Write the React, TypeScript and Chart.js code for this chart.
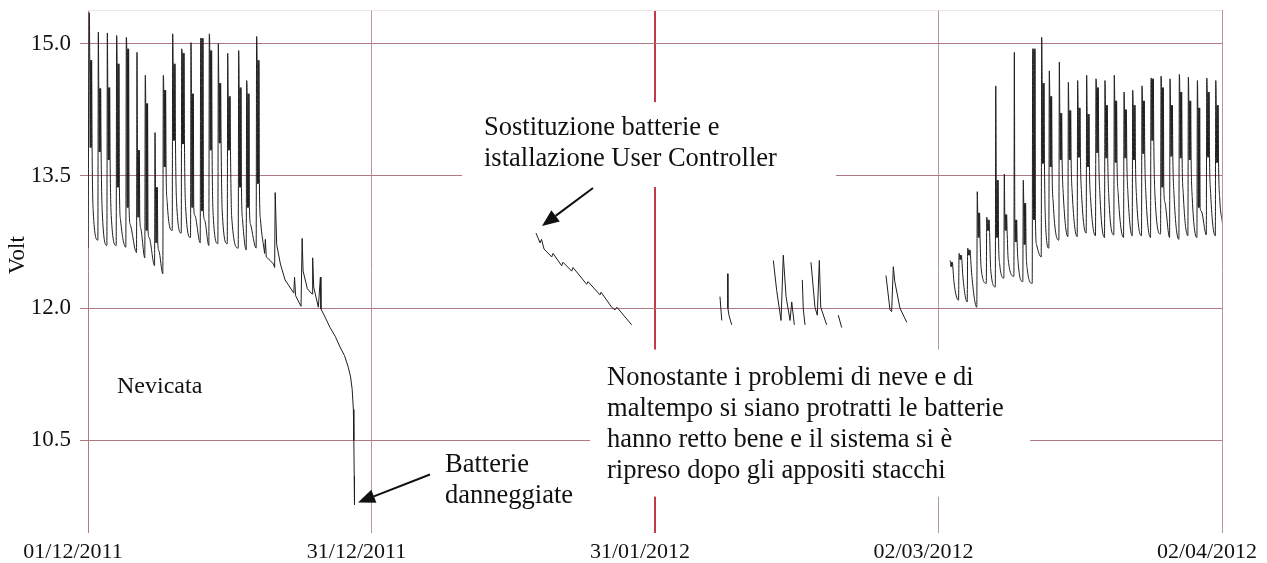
import React, { useEffect, useRef } from 'react';
import { Chart, registerables } from 'chart.js';

Chart.register(...registerables);

// ---- axis data ----
const xTickDays = [0, 30.5, 61, 91.5, 122];
const xTickLabels = ['01/12/2011', '31/12/2011', '31/01/2012', '02/03/2012', '02/04/2012'];
const xGridColors = ['#b07880', '#b49a9e', '#c23a48', '#b09a9c', '#b8969a'];
const xGridWidths = [1, 1, 2, 1, 1];
const yTickValues = [10.5, 12.0, 13.5, 15.0];

// ---- December: daily charge spikes ----
const decDays = [0.14, 1.11, 2.08, 3.08, 4.12, 5.27, 6.16, 7.21, 8.1, 9.11, 10.08, 11.08, 12.12, 13.05, 14.02, 15.03, 16.21, 17.07, 18.14];
const decLow = [12.68, 12.77, 12.71, 12.71, 12.69, 12.63, 12.57, 12.48, 12.39, 12.88, 12.85, 12.8, 12.74, 12.71, 12.73, 12.73, 12.68, 12.66, 12.68];
const decPeak = [15.35, 15.13, 15.12, 15.09, 15.07, 14.9, 14.64, 13.99, 14.64, 15.11, 14.94, 15.01, 15.06, 15.11, 15.0, 14.89, 14.92, 14.58, 15.08];
const decBandHi = [14.81, 14.49, 14.5, 14.77, 14.94, 13.79, 14.32, 13.37, 14.47, 14.77, 14.89, 14.43, 15.06, 14.92, 14.55, 14.4, 14.5, 14.43, 14.81];
const decBandLo = [13.82, 13.77, 13.68, 13.37, 13.14, 13.03, 12.88, 12.74, 13.6, 13.9, 13.86, 13.14, 13.1, 13.79, 13.87, 13.79, 13.37, 13.14, 13.41];
const decDrop = [13.1, 13.1, 13.05, 13.0, 12.95, 12.9, 12.8, 12.65, 13.2, 13.2, 13.15, 13.05, 13.0, 13.05, 13.1, 13.05, 13.0, 12.95, 13.0];

// ---- end of December: decline and failure ----
const tailDays = [19.0, 19.08, 19.18, 19.6, 19.95, 20.08, 20.14, 20.3, 20.7, 21.2, 22.14, 22.22, 22.34, 22.92, 23.04, 23.14, 23.6, 24.1, 24.17, 24.28, 24.78, 25.0, 25.06, 25.5, 26.04, 26.6, 27.11, 27.6, 28.0, 28.25, 28.42, 28.55, 28.6, 28.64, 28.67];
const tailVolts = [12.62, 12.78, 12.58, 12.54, 12.5, 12.46, 13.31, 12.72, 12.5, 12.32, 12.17, 12.35, 12.14, 12.02, 12.79, 12.42, 12.22, 12.16, 12.57, 12.24, 12.01, 12.35, 11.99, 11.9, 11.78, 11.68, 11.56, 11.46, 11.33, 11.22, 11.08, 10.85, 10.5, 10.1, 9.77];

// ---- January: after battery replacement ----
const janDays = [48.2, 48.63, 48.79, 49.06, 49.89, 50.03, 50.96, 51.1, 52.04, 52.18, 53.65, 53.8, 55.08, 55.2, 56.34, 56.7, 56.9, 58.49];
const janVolts = [12.85, 12.74, 12.78, 12.67, 12.58, 12.62, 12.48, 12.52, 12.42, 12.46, 12.27, 12.3, 12.15, 12.18, 12.01, 11.98, 12.01, 11.81];

// ---- February: fragments (null = no data) ----
const febDays = [67.99, 68.18, 68.19, 68.82, 68.84, 68.96, 69.25, 69.26, 73.73, 74.09, 74.56, 74.8, 75.1, 75.53, 75.71, 75.99, 76.0, 76.85, 76.95, 77.14, 77.15, 77.78, 78.21, 78.46, 78.68, 78.83, 79.47, 79.48, 80.72, 81.08, 81.09, 85.85, 86.28, 86.46, 86.64, 86.8, 87.35, 88.08];
const febVolts = [12.13, 11.86, null, 12.39, 12.0, 11.92, 11.81, null, 12.54, 12.2, 11.86, 12.6, 12.13, 11.86, 12.07, 11.81, null, 12.32, 11.99, 11.81, null, 12.52, 12.01, 11.92, 12.54, 12.01, 11.81, null, 11.92, 11.78, null, 12.37, 11.98, 11.96, 12.47, 12.3, 12.0, 11.84];

// ---- March: daily charge spikes ----
const marDays = [92.74, 93.71, 94.64, 95.67, 96.69, 97.66, 98.58, 99.66, 100.62, 101.63, 102.6, 103.42, 104.5, 105.47, 106.47, 107.44, 108.44, 109.41, 110.41, 111.46, 112.39, 113.39, 114.36, 115.44, 116.41, 117.41, 118.38, 119.35, 120.36, 121.33];
const marLow = [null, 12.09, 12.07, 12.01, 12.28, 12.24, 12.34, 12.36, 12.3, 12.28, 12.58, 12.68, 12.77, 12.81, 12.81, 12.85, 12.82, 12.8, 12.83, 12.8, 12.82, 12.82, 12.8, 12.84, 12.8, 12.78, 12.82, 12.8, 12.83, 12.82];
const marPeak = [12.54, 12.62, 12.68, 13.32, 13.03, 14.52, 13.52, 14.9, 13.45, 14.94, 15.07, 14.69, 14.79, 14.56, 14.58, 14.64, 14.6, 14.58, 14.64, 14.45, 14.47, 14.52, 14.61, 14.63, 14.6, 14.65, 14.62, 14.58, 14.61, 14.58];
const marBandHi = [12.52, 12.6, 12.66, 13.08, 13.0, 13.45, 13.06, 13.0, 13.19, 14.94, 14.55, 14.4, 14.21, 14.24, 14.27, 14.2, 14.5, 14.3, 14.35, 14.25, 14.3, 14.35, 14.6, 14.5, 14.3, 14.45, 14.35, 14.27, 14.45, 14.3];
const marBandLo = [12.47, 12.55, 12.6, 12.8, 12.88, 12.8, 12.88, 12.75, 12.72, 13.0, 13.64, 13.6, 13.68, 13.68, 13.71, 13.6, 13.76, 13.7, 13.65, 13.7, 13.68, 13.75, 13.9, 13.37, 13.72, 13.7, 13.68, 13.14, 13.71, 13.65];
const marDrop = [12.3, 12.35, 12.4, 12.45, 12.45, 12.5, 12.55, 12.5, 12.45, 12.72, 12.95, 13.2, 13.3, 13.3, 13.3, 13.25, 13.3, 13.25, 13.3, 13.3, 13.25, 13.3, 13.3, 13.2, 13.3, 13.3, 13.25, 13.1, 13.3, 13.25];
const marEndDays = [122.05];
const marEndVolts = [12.96];

// ---- annotations (anchored in data units) ----
const FONT = "'Liberation Serif', 'Times New Roman', Times, serif";
const notes = [
  { day: 3.12, volt: 11.04, size: 24, lines: ['Nevicata'] },
  { day: 42.6, volt: 13.962, size: 26.5, lines: ['Sostituzione batterie e', 'istallazione User Controller'] },
  { day: 55.84, volt: 11.132, size: 26.5, lines: ['Nonostante i problemi di neve e di', 'maltempo si siano protratti le batterie', 'hanno retto bene e il sistema si è', 'ripreso dopo gli appositi stacchi'] },
  { day: 38.41, volt: 10.147, size: 26.5, lines: ['Batterie', 'danneggiate'] },
];
const whiteBoxes = [
  { d0: 40.24, d1: 80.47, v0: 14.335, v1: 13.373 },
  { d0: 54.01, d1: 101.35, v0: 11.53, v1: 9.863 },
];
const arrows = [
  { fromDay: 54.33, fromVolt: 13.362, toDay: 48.84, toVolt: 12.93 },
  { fromDay: 36.79, fromVolt: 10.113, toDay: 29.05, toVolt: 9.796 },
];

type P = { x: number; y: number | null };

function spikeSection(days: number[], low: (number | null)[], peak: number[], hi: number[], lo: number[], drop: number[]): P[] {
  const pts: P[] = [];
  days.forEach((d, i) => {
    if (low[i] !== null) pts.push({ x: d - 0.05, y: low[i] });
    pts.push({ x: d, y: peak[i] });
    pts.push({ x: d + 0.05, y: hi[i] });
    pts.push({ x: d + 0.1, y: lo[i] });
    pts.push({ x: d + 0.15, y: hi[i] });
    pts.push({ x: d + 0.2, y: lo[i] });
    pts.push({ x: d + 0.25, y: hi[i] });
    pts.push({ x: d + 0.3, y: lo[i] });
    pts.push({ x: d + 0.42, y: drop[i] });
  });
  return pts;
}

function listSection(days: number[], volts: (number | null)[]): P[] {
  return days.map((d, i) => ({ x: d, y: volts[i] }));
}

const gap = (x: number): P => ({ x, y: null });

function buildSpikeData(): P[] {
  return [
    { x: 0, y: decLow[0] },
    ...spikeSection(decDays, decLow.map((v, i) => (i === 0 ? null : v)), decPeak, decBandHi, decBandLo, decDrop),
    { x: tailDays[0], y: tailVolts[0] },
    gap(60),
    ...spikeSection(marDays, marLow, marPeak, marBandHi, marBandLo, marDrop),
    ...listSection(marEndDays, marEndVolts),
  ];
}

function buildLowData(): P[] {
  return [
    ...listSection(tailDays, tailVolts),
    gap(38),
    ...listSection(janDays, janVolts),
    gap(63),
    ...listSection(febDays, febVolts),
  ];
}

const annotationPlugin = {
  id: 'notes',
  beforeDatasetsDraw(chart: any) {
    const { ctx, chartArea, scales } = chart;
    const xs = scales.x;
    const ys = scales.y;
    ctx.save();
    ctx.strokeStyle = '#ece4e4';
    ctx.lineWidth = 1;
    ctx.beginPath();
    ctx.moveTo(chartArea.left, chartArea.top + 0.5);
    ctx.lineTo(chartArea.right, chartArea.top + 0.5);
    ctx.stroke();
    ctx.fillStyle = '#ffffff';
    whiteBoxes.forEach((b) => {
      const x0 = xs.getPixelForValue(b.d0);
      const x1 = xs.getPixelForValue(b.d1);
      const y0 = ys.getPixelForValue(b.v0);
      const y1 = ys.getPixelForValue(b.v1);
      ctx.fillRect(x0, y0, x1 - x0, y1 - y0);
    });
    ctx.restore();
  },
  afterDraw(chart: any) {
    const { ctx, scales } = chart;
    const xs = scales.x;
    const ys = scales.y;
    ctx.save();
    ctx.fillStyle = '#111';
    ctx.textAlign = 'left';
    ctx.textBaseline = 'alphabetic';
    notes.forEach((n) => {
      ctx.font = `${n.size}px ${FONT}`;
      const x = xs.getPixelForValue(n.day);
      const y = ys.getPixelForValue(n.volt);
      const lh = n.size * 1.18;
      n.lines.forEach((t, i) => ctx.fillText(t, x, y + i * lh));
    });
    ctx.font = `23px ${FONT}`;
    ctx.textAlign = 'center';
    ctx.textBaseline = 'middle';
    ctx.translate(18, ys.getPixelForValue(12.6));
    ctx.rotate(-Math.PI / 2);
    ctx.fillText('Volt', 0, 0);
    ctx.restore();

    ctx.save();
    ctx.strokeStyle = '#111';
    ctx.fillStyle = '#111';
    ctx.lineWidth = 2;
    arrows.forEach((a) => {
      const x0 = xs.getPixelForValue(a.fromDay);
      const y0 = ys.getPixelForValue(a.fromVolt);
      const x1 = xs.getPixelForValue(a.toDay);
      const y1 = ys.getPixelForValue(a.toVolt);
      const ang = Math.atan2(y1 - y0, x1 - x0);
      const headLen = 17;
      const headW = 7;
      const bx = x1 - headLen * Math.cos(ang);
      const by = y1 - headLen * Math.sin(ang);
      ctx.beginPath();
      ctx.moveTo(x0, y0);
      ctx.lineTo(bx, by);
      ctx.stroke();
      ctx.beginPath();
      ctx.moveTo(x1, y1);
      ctx.lineTo(bx + headW * Math.sin(ang), by - headW * Math.cos(ang));
      ctx.lineTo(bx - headW * Math.sin(ang), by + headW * Math.cos(ang));
      ctx.closePath();
      ctx.fill();
    });
    ctx.restore();
  },
};

export default function App() {
  const canvasRef = useRef<HTMLCanvasElement | null>(null);

  useEffect(() => {
    if (!canvasRef.current) return;
    const chart = new Chart(canvasRef.current, {
      type: 'line',
      data: {
        datasets: [
          {
            data: buildSpikeData() as any,
            borderColor: '#1e1e1e',
            borderWidth: 1,
            pointRadius: 0,
            cubicInterpolationMode: 'monotone',
            fill: false,
            spanGaps: false,
          },
          {
            data: buildLowData() as any,
            borderColor: '#1e1e1e',
            borderWidth: 1,
            pointRadius: 0,
            tension: 0,
            fill: false,
            spanGaps: false,
          },
        ],
      },
      options: {
        animation: false,
        responsive: true,
        maintainAspectRatio: false,
        layout: { padding: { top: 10, right: 45, left: 0, bottom: 0 } },
        plugins: { legend: { display: false }, tooltip: { enabled: false } },
        scales: {
          x: {
            type: 'linear',
            min: 0,
            max: 122,
            afterBuildTicks: (axis: any) => {
              axis.ticks = xTickDays.map((v) => ({ value: v }));
            },
            afterFit: (axis: any) => {
              axis.height = 30;
              axis.paddingLeft = 0;
              axis.paddingRight = 0;
              axis.paddingTop = 0;
              axis.paddingBottom = 0;
            },
            ticks: {
              autoSkip: false,
              maxRotation: 0,
              padding: 6,
              labelOffset: -15,
              color: '#111',
              font: { family: FONT, size: 22 },
              callback: (_v: any, i: number) => xTickLabels[i],
            },
            grid: {
              drawTicks: false,
              color: (c: any) => xGridColors[c.index] || '#b07880',
              lineWidth: (c: any) => xGridWidths[c.index] || 1,
            },
            border: { display: false },
          },
          y: {
            type: 'linear',
            min: 9.45,
            max: 15.38,
            afterBuildTicks: (axis: any) => {
              axis.ticks = yTickValues.map((v) => ({ value: v }));
            },
            afterFit: (axis: any) => {
              axis.width = 88;
              axis.paddingLeft = 0;
              axis.paddingRight = 0;
              axis.paddingTop = 0;
              axis.paddingBottom = 0;
            },
            ticks: {
              padding: 9,
              color: '#111',
              font: { family: FONT, size: 23 },
              callback: (v: any) => Number(v).toFixed(1),
            },
            grid: {
              drawTicks: true,
              tickLength: 8,
              color: '#b07880',
              lineWidth: 1,
            },
            border: { display: false },
          },
        },
      },
      plugins: [annotationPlugin],
    });
    return () => chart.destroy();
  }, []);

  return (
    <div style={{ position: 'fixed', left: 0, top: 0, width: 1267, height: 563, background: '#fff' }}>
      <canvas ref={canvasRef} />
    </div>
  );
}
